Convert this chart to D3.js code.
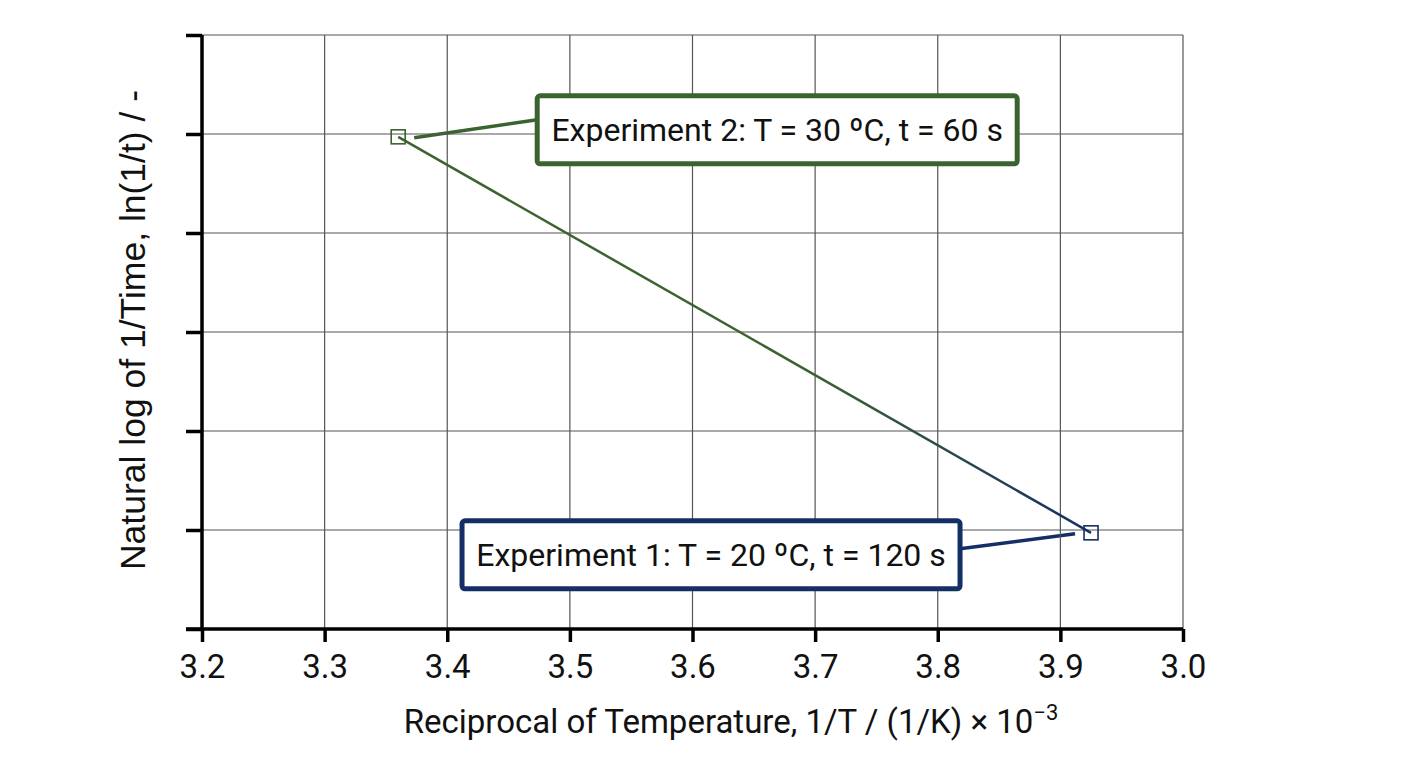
<html>
<head>
  <meta charset="utf-8" />
  <script src="https://d3js.org/d3.v7.min.js"></script>
</head>
<body style="margin: 0; background: #fff">
<script>

// data
let xTicks = [3.2, 3.3, 3.4, 3.5, 3.6, 3.7, 3.8, 3.9, 4.0]
let xTickLabels = ['3.2', '3.3', '3.4', '3.5', '3.6', '3.7', '3.8', '3.9', '3.0']
let yTicks = [-4.96, -4.785, -4.61, -4.435, -4.26, -4.085, -3.91]
let invT = [3.925, 3.36]
let lnInvTime = [-4.79, -4.09]
let labels = ['Experiment 1: T = 20 ºC, t = 120 s', 'Experiment 2: T = 30 ºC, t = 60 s']
let colors = ['#142f66', '#3b6330']

let width = 1408, height = 768
let plotLeft = 202, plotRight = 1183, plotTop = 35, plotBottom = 629

let svg = d3.select('body').append('svg')
  .attr('width', width)
  .attr('height', height)

let x = d3.scaleLinear().domain([3.2, 4.0]).range([plotLeft, plotRight])
let y = d3.scaleLinear().domain([-4.96, -3.91]).range([plotBottom, plotTop])

// grid
let grid = svg.append('g')
grid.selectAll('.vg').data(xTicks.slice(1)).enter().append('line')
  .attr('x1', d => x(d)).attr('x2', d => x(d))
  .attr('y1', plotTop).attr('y2', plotBottom)
  .attr('stroke', '#555').attr('stroke-width', 1.2)
grid.selectAll('.hg').data(yTicks.slice(1)).enter().append('line')
  .attr('x1', plotLeft).attr('x2', plotRight)
  .attr('y1', d => y(d)).attr('y2', d => y(d))
  .attr('stroke', '#555').attr('stroke-width', 1.2)

// axes
let xAxis = svg.append('g')
  .attr('transform', `translate(0,${plotBottom})`)
  .call(d3.axisBottom(x).tickValues(xTicks).tickFormat((d, i) => xTickLabels[i]).tickSize(13).tickPadding(13))
xAxis.select('.domain').attr('stroke', '#000').attr('stroke-width', 3.5)
  .attr('d', `M${plotLeft - 16},0H${plotRight}`)
xAxis.selectAll('line').attr('stroke', '#000').attr('stroke-width', 3.5)
xAxis.selectAll('text').attr('font-family', 'Roboto').attr('font-size', 33).attr('fill', '#111')

let yAxis = svg.append('g')
  .attr('transform', `translate(${plotLeft},0)`)
  .call(d3.axisLeft(y).tickValues(yTicks).tickFormat('').tickSize(16))
yAxis.select('.domain').attr('stroke', '#000').attr('stroke-width', 3.5)
  .attr('d', `M0,${plotTop}V${plotBottom}`)
yAxis.selectAll('line').attr('stroke', '#000').attr('stroke-width', 3.5)

// axis titles
svg.append('text')
  .attr('x', 731).attr('y', 733)
  .attr('text-anchor', 'middle')
  .attr('font-family', 'Roboto').attr('font-size', 33).attr('fill', '#111')
  .html('Reciprocal of Temperature, 1/T / (1/K) × 10<tspan dy="-13" font-size="22">−3</tspan>')

svg.append('text')
  .attr('transform', 'translate(145,330) rotate(-90)')
  .attr('text-anchor', 'middle')
  .attr('font-family', 'Liberation Sans, Arial').attr('font-size', 35.5).attr('fill', '#111')
  .text('Natural log of 1/Time, ln(1/t) / -')

// connecting line with colour fade
let defs = svg.append('defs')
let grad = defs.append('linearGradient')
  .attr('id', 'fade').attr('gradientUnits', 'userSpaceOnUse')
  .attr('x1', x(invT[1])).attr('y1', y(lnInvTime[1]))
  .attr('x2', x(invT[0])).attr('y2', y(lnInvTime[0]))
grad.append('stop').attr('offset', '0%').attr('stop-color', colors[1])
grad.append('stop').attr('offset', '60%').attr('stop-color', colors[1])
grad.append('stop').attr('offset', '100%').attr('stop-color', colors[0])

let pts = invT.map((d, i) => ({ x: d, y: lnInvTime[i], label: labels[i], color: colors[i] }))

svg.append('path')
  .datum(pts)
  .attr('fill', 'none')
  .attr('stroke', 'url(#fade)')
  .attr('stroke-width', 2.5)
  .attr('d', d3.line().x(d => x(d.x)).y(d => y(d.y)))

svg.selectAll('.pt').data(pts).enter().append('rect')
  .attr('x', d => x(d.x) - 7).attr('y', d => y(d.y) - 7)
  .attr('width', 14).attr('height', 14)
  .attr('fill', 'none')
  .attr('stroke', d => d.color).attr('stroke-width', 1.6)

// callouts: offset of box centre from its point
let offsets = [[-380, 22], [379, -7]]
let boxW = [498, 480]
let lineStart = [[-16, 1], [16, 1]]

pts.forEach((d, i) => {
  let px = x(d.x), py = y(d.y)
  let cx = px + offsets[i][0], cy = py + offsets[i][1]
  let g = svg.append('g')
  g.append('text')
    .attr('x', cx).attr('y', cy + 11)
    .attr('text-anchor', 'middle')
    .attr('font-family', 'Roboto').attr('font-size', 32).attr('fill', '#111')
    .text(d.label)
  let bw = boxW[i]
  g.insert('rect', 'text')
    .attr('x', cx - bw / 2).attr('y', cy - 34)
    .attr('width', bw).attr('height', 68)
    .attr('rx', 3)
    .attr('fill', '#fff')
    .attr('stroke', d.color).attr('stroke-width', 5)
  let ex = i == 0 ? cx + bw / 2 : cx - bw / 2
  let ey = i == 0 ? cy - 6 : cy - 10
  svg.insert('line', 'g')
    .attr('x1', px + lineStart[i][0]).attr('y1', py + lineStart[i][1])
    .attr('x2', ex).attr('y2', ey)
    .attr('stroke', d.color).attr('stroke-width', 3.5)
})

</script>
</body>
</html>
